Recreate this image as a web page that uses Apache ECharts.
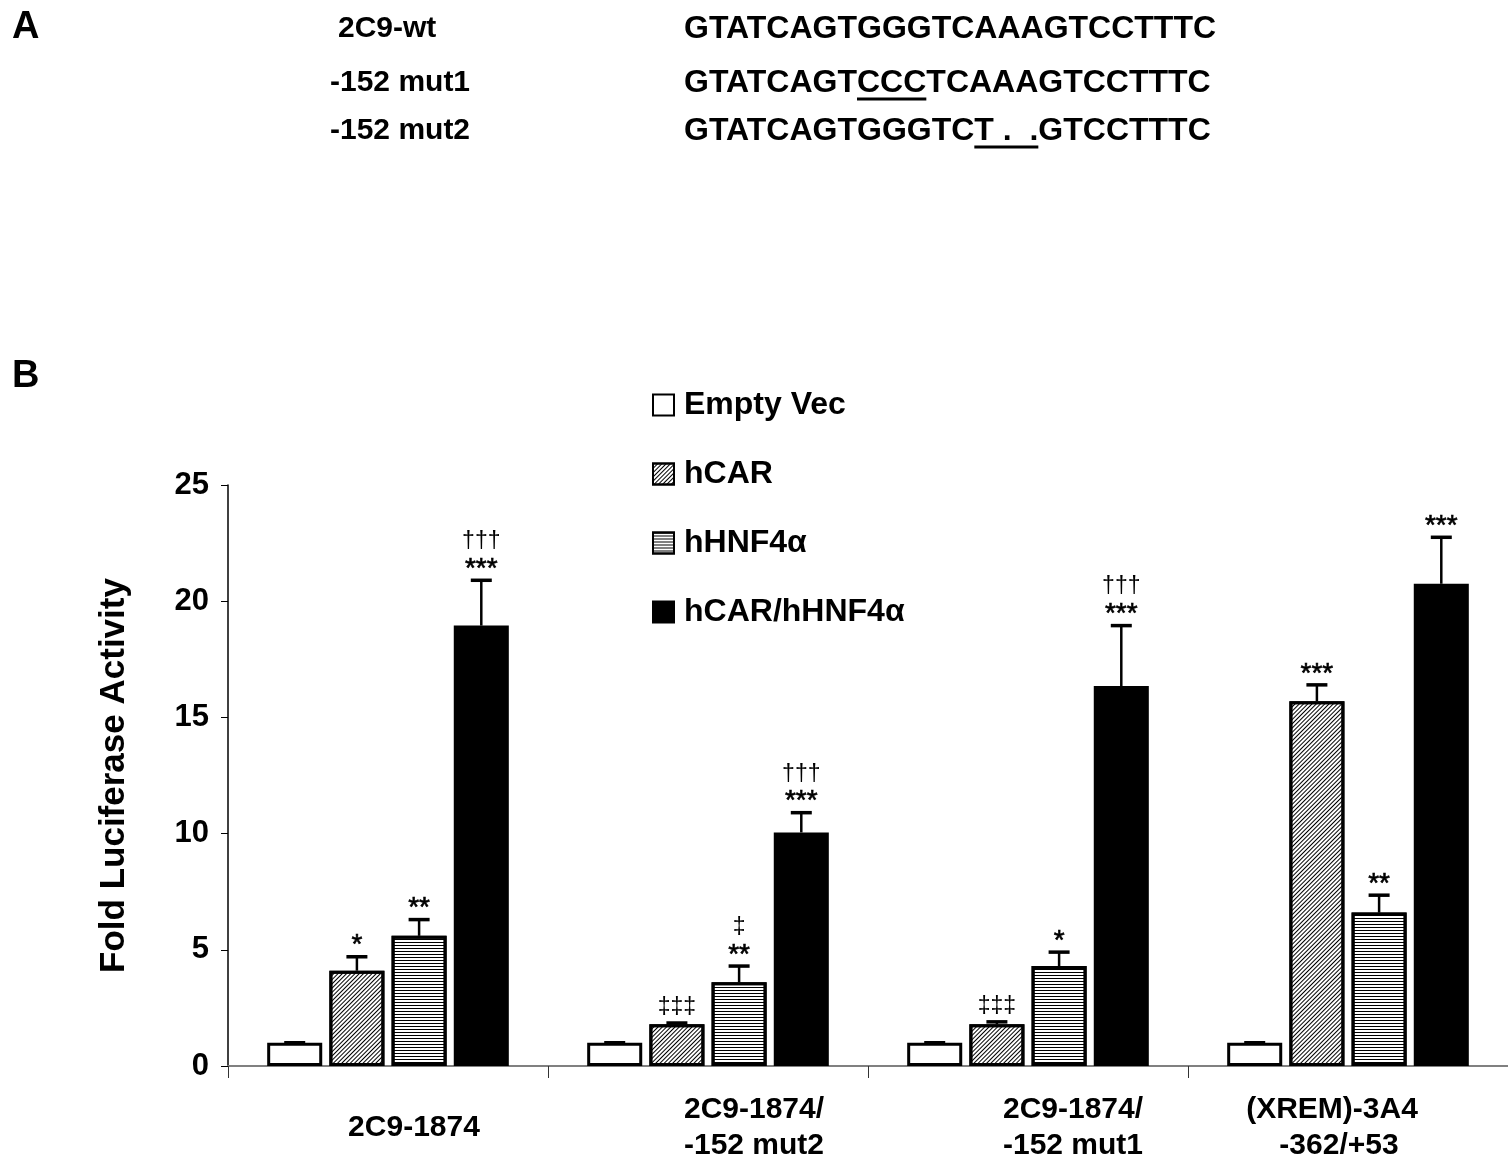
<!DOCTYPE html>
<html>
<head>
<meta charset="utf-8">
<script src="https://cdn.jsdelivr.net/npm/echarts@6/dist/echarts.min.js"></script>
<style>
  html, body { margin: 0; padding: 0; background: #fff; }
  #main { width: 1508px; height: 1164px; }
</style>
</head>
<body>
<div id="main"></div>
<script>
// ---- data ----
const categories = ['2C9-1874', '2C9-1874/\n-152 mut2', '2C9-1874/\n-152 mut1', '(XREM)-3A4\n-362/+53'];
const seriesNames = ['Empty Vec', 'hCAR', 'hHNF4α', 'hCAR/hHNF4α'];

const emptyVec = [1.0, 1.0, 1.0, 1.0];
const emptyErr = [0, 0, 0, 0];
const hCAR = [4.1, 1.8, 1.8, 15.7];
const hCARErr = [0.6, 0.05, 0.1, 0.7];
const hHNF4 = [5.6, 3.6, 4.3, 6.6];
const hHNF4Err = [0.7, 0.7, 0.6, 0.75];
const combo = [18.95, 10.05, 16.35, 20.75];
const comboErr = [1.95, 0.85, 2.6, 2.0];

// significance marks, per series then per category
const starMarks = [
  ['', '', '', ''],
  ['*', '', '', '***'],
  ['**', '**', '*', '**'],
  ['***', '***', '***', '***']
];
const daggerMarks = [
  ['', '', '', ''],
  ['', '‡‡‡', '‡‡‡', ''],
  ['', '‡', '', ''],
  ['†††', '†††', '†††', '']
];

const yTicks = { min: 0, max: 25, interval: 5 };

// panel A sequences
const seqNames = ['2C9-wt', '-152 mut1', '-152 mut2'];
const seqPre = ['GTATCAGTGGGTCAAAGTCCTTTC', 'GTATCAGT', 'GTATCAGTGGGTC'];
const seqMut = ['', 'CCC', 'T .  .'];
const seqPost = ['', 'TCAAAGTCCTTTC', 'GTCCTTTC'];

// ---- styling ----
const FONT = '"Liberation Sans", Arial, Helvetica, sans-serif';
const BAR_W = 0.172;   // bar width as share of category band
const BAR_GAP = 0.13;  // gap as share of bar width

const values = [emptyVec, hCAR, hHNF4, combo];
const errors = [emptyErr, hCARErr, hHNF4Err, comboErr];

const decals = [
  null,
  { symbol: 'rect', symbolSize: 1, dashArrayX: [1, 0], dashArrayY: [1, 1.5], rotation: -Math.PI / 4, color: '#000' },
  { symbol: 'rect', symbolSize: 1, dashArrayX: [1, 0], dashArrayY: [1, 2], rotation: 0, color: '#000' },
  null
];
const fills = ['#fff', '#fff', '#fff', '#000'];

var chartDom = document.getElementById('main');
var myChart = echarts.init(chartDom);

// measure text widths for underlines in panel A
const ctx = document.createElement('canvas').getContext('2d');
const seqFont = 'bold 32px ' + FONT;
ctx.font = seqFont;
const rowY = [29, 83, 131];
const nameX = [338, 330, 330];
const seqX = 684;

function txt(x, y, text, font) {
  return { type: 'text', x: x, y: y, style: { text: text, font: font, fill: '#000', verticalAlign: 'middle', textVerticalAlign: 'middle' } };
}

const graphics = [txt(12, 28, 'A', 'bold 38px ' + FONT), txt(12, 377, 'B', 'bold 38px ' + FONT)];
seqNames.forEach(function (nm, i) {
  graphics.push(txt(nameX[i], rowY[i], nm, 'bold 30px ' + FONT));
  const w1 = ctx.measureText(seqPre[i]).width;
  const w2 = ctx.measureText(seqMut[i]).width;
  graphics.push(txt(seqX, rowY[i], seqPre[i], seqFont));
  if (seqMut[i]) {
    graphics.push(txt(seqX + w1, rowY[i], seqMut[i], seqFont));
    graphics.push(txt(seqX + w1 + w2, rowY[i], seqPost[i], seqFont));
    graphics.push({ type: 'line', shape: { x1: seqX + w1, y1: rowY[i] + 16, x2: seqX + w1 + w2, y2: rowY[i] + 16 }, style: { stroke: '#000', lineWidth: 3 } });
  }
});

// error bars + significance marks
const errData = [];
values.forEach(function (arr, s) {
  arr.forEach(function (v, c) { errData.push([c, v, errors[s][c], s]); });
});

function renderErr(params, api) {
  const c = api.value(0), v = api.value(1), e = api.value(2), s = api.value(3);
  const band = api.size([1, 0])[0];
  const bw = band * BAR_W, gap = bw * BAR_GAP;
  const total = 4 * bw + 3 * gap;
  const center = api.coord([c, 0])[0];
  const x = center - total / 2 + s * (bw + gap) + bw / 2;
  const yTop = api.coord([c, v])[1];
  const yCap = api.coord([c, v + e])[1];
  const children = [
    { type: 'line', shape: { x1: x, y1: yTop, x2: x, y2: yCap }, style: { stroke: '#000', lineWidth: 2.5 } },
    { type: 'line', shape: { x1: x - 10.5, y1: yCap, x2: x + 10.5, y2: yCap }, style: { stroke: '#000', lineWidth: 3.5 } }
  ];
  let y = yCap - 4;
  const st = starMarks[s][c], dg = daggerMarks[s][c];
  if (st) {
    children.push({ type: 'text', x: x, y: y + 7, style: { text: st, font: '28px ' + FONT, fill: '#000', stroke: '#000', lineWidth: 0.6, align: 'center', verticalAlign: 'bottom', textAlign: 'center', textVerticalAlign: 'bottom' } });
    y -= 23;
  }
  if (dg) {
    children.push({ type: 'text', x: x, y: y, style: { text: dg, font: '23px ' + FONT, fill: '#000', align: 'center', verticalAlign: 'bottom', textAlign: 'center', textVerticalAlign: 'bottom' } });
  }
  return { type: 'group', children: children };
}

// x label shifts per category/line, via rich styles
function lbl(pad) {
  return { fontSize: 30, fontWeight: 'bold', fontFamily: FONT, color: '#000', lineHeight: 36, padding: pad };
}
const labelRich = {
  c0a: lbl([36, 0, 0, 52]),
  c1a: lbl([0, 0, 0, 92]), c1b: lbl([0, 0, 0, 92]),
  c2a: lbl([0, 0, 0, 90]), c2b: lbl([0, 0, 0, 90]),
  c3a: lbl([0, 32, 0, 0]), c3b: lbl([0, 18, 0, 0])
};

const barSeries = seriesNames.map(function (nm, s) {
  const style = { color: fills[s], borderColor: '#000', borderWidth: 3 };
  if (decals[s]) style.decal = decals[s];
  return {
    name: nm,
    type: 'bar',
    barWidth: (BAR_W * 100) + '%',
    barGap: (BAR_GAP * 100) + '%',
    itemStyle: style,
    data: values[s]
  };
});

var option = {
  animation: false,
  backgroundColor: '#fff',
  graphic: graphics,
  legend: {
    data: seriesNames,
    orient: 'vertical',
    left: 652,
    top: 385,
    padding: 0,
    itemWidth: 21,
    itemHeight: 21,
    itemGap: 29,
    icon: 'rect',
    itemStyle: { borderColor: '#000', borderWidth: 2 },
    textStyle: { fontFamily: FONT, fontSize: 32, fontWeight: 'bold', color: '#000', lineHeight: 40, padding: [0, 0, 0, 5] }
  },
  grid: { left: 228, right: 0, top: 485, bottom: 98, containLabel: false },
  xAxis: {
    type: 'category',
    data: categories,
    axisLine: { lineStyle: { color: '#808080', width: 2 } },
    axisTick: { show: true, length: 12, lineStyle: { color: '#333', width: 1 } },
    axisLabel: {
      margin: 26,
      interval: 0,
      formatter: function (val, idx) {
        return val.split('\n').map(function (ln, k) { return '{c' + idx + (k ? 'b' : 'a') + '|' + ln + '}'; }).join('\n');
      },
      rich: labelRich
    }
  },
  yAxis: {
    type: 'value',
    min: yTicks.min,
    max: yTicks.max,
    interval: yTicks.interval,
    name: 'Fold Luciferase Activity',
    nameLocation: 'middle',
    nameRotate: 90,
    nameGap: 96,
    nameTextStyle: { fontFamily: FONT, fontSize: 35, fontWeight: 'bold', color: '#000' },
    axisLine: { show: true, lineStyle: { color: '#000', width: 1.5 } },
    axisTick: { show: true, length: 7, lineStyle: { color: '#000', width: 1 } },
    axisLabel: { fontFamily: FONT, fontSize: 31, fontWeight: 'bold', color: '#000', margin: 19 },
    splitLine: { show: false }
  },
  series: barSeries.concat([{
    type: 'custom',
    name: 'err',
    renderItem: renderErr,
    data: errData,
    encode: { x: 0, y: 1 },
    clip: false,
    z: 5,
    silent: true
  }])
};

option && myChart.setOption(option);

window.addEventListener('resize', function () {
  myChart.resize();
});
</script>
</body>
</html>
